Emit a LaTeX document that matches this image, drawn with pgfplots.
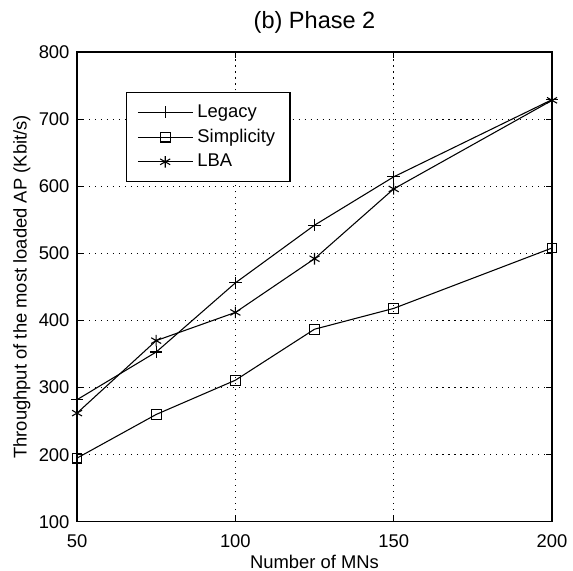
\documentclass[border=0pt]{standalone}
\usepackage{fontspec}
\setmainfont{Liberation Sans}
\usepackage{pgfplots}
\pgfplotsset{compat=1.18}
\begin{document}
\begin{tikzpicture}
\begin{axis}[
  scale only axis,
  width=222pt, height=219.6pt,
  xmin=50, xmax=200, ymin=100, ymax=800,
  xtick={50,100,150,200},
  ytick={100,200,...,800},
  tick align=inside,
  xtick pos=both, ytick pos=both,
  major tick length=2.8pt,
  grid=major,
  major grid style={black, line width=0.4pt, dash pattern=on 0.5pt off 2.3pt},
  axis line style={line width=0.6pt},
  tick style={black, line width=0.5pt},
  /pgf/number format/assume math mode=true,
  tick label style={font=\fontsize{8.6}{10}\selectfont},
  xticklabel style={yshift=-2.5pt},
  yticklabel style={xshift=0pt},
  label style={font=\fontsize{8.6}{10}\selectfont},
  xlabel={Number of MNs},
  ylabel={Throughput of the most loaded AP (Kbit/s)},
  xlabel style={at={(axis description cs:0.5,-0.086)}, anchor=center},
  ylabel style={at={(axis description cs:-0.116,0.5)}, anchor=center},
  legend style={at={(0.103,0.915)}, anchor=north west, font=\fontsize{8.6}{10}\selectfont, draw=black, line width=0.6pt, row sep=0pt, inner xsep=5pt, inner ysep=3.5pt},
  legend cell align=left,
  legend image code/.code={\draw[mark repeat=2,mark phase=2,line width=0.5pt] plot coordinates {(0cm,0cm) (0.45cm,0cm) (0.9cm,0cm)};},
  clip=false,
]
\coordinate (ll) at (rel axis cs:0,0);
\coordinate (ur) at (rel axis cs:1,1);
\node[font=\fontsize{11}{13}\selectfont, anchor=center] at (axis description cs:0.5,1.063) {(b) Phase 2};
\addplot[black, line width=0.5pt, mark=+, mark size=2.9pt] coordinates {
(50,282) (75,353) (100,456) (125,542) (150,614) (200,729)};
\addlegendentry{Legacy}
\addplot[black, line width=0.5pt, mark=square, mark size=2.3pt] coordinates {
(50,195) (75,260) (100,311) (125,387) (150,418) (200,508)};
\addlegendentry{Simplicity}
\addplot[black, line width=0.5pt, mark=asterisk, mark size=2.7pt] coordinates {
(50,262) (75,370) (100,412) (125,492) (150,596) (200,728)};
\addlegendentry{LBA}
\end{axis}
\pgfresetboundingbox
\path ([shift={(-36pt,-22.9pt)}]ll) rectangle ([shift={(9.8pt,24.3pt)}]ur);
\end{tikzpicture}
\end{document}
